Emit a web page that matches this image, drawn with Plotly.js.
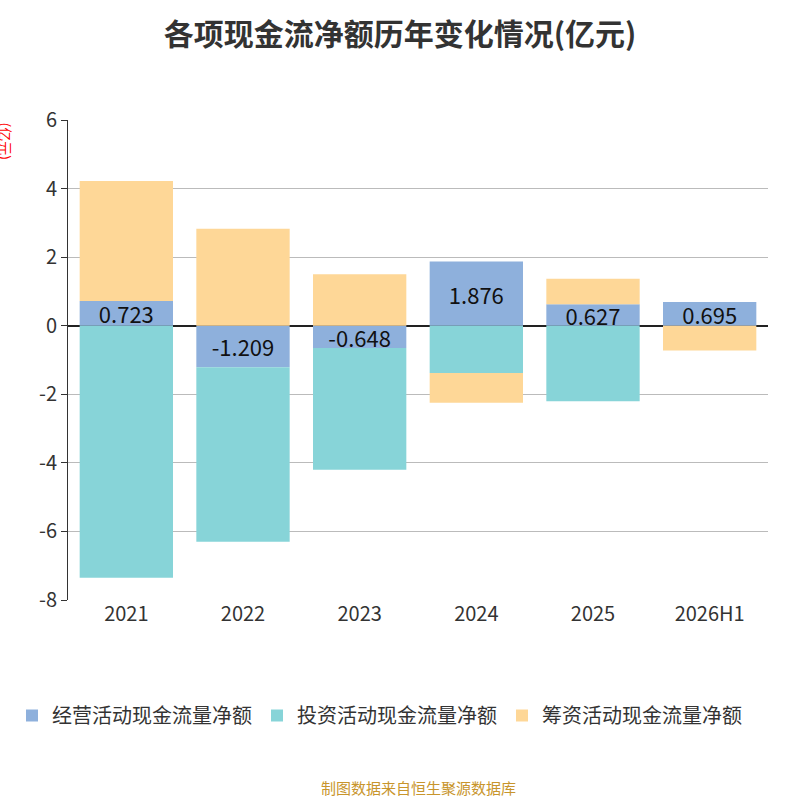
<!DOCTYPE html>
<html>
<head>
<meta charset="utf-8">
<script src="https://cdn.plot.ly/plotly-3.0.1.min.js"></script>
<style>body{margin:0}</style>
</head>
<body>
<div id="chart" style="width:800px;height:800px"></div>
<script>
var years = ['2021', '2022', '2023', '2024', '2025', '2026H1'];
var operating = [0.723, -1.209, -0.648, 1.876, 0.627, 0.695];
var investing = [-7.35, -5.09, -3.55, -1.38, -2.2, 0];
var financing = [3.5, 2.83, 1.5, -0.87, 0.74, -0.72];
var yTicks = [-8, -6, -4, -2, 0, 2, 4, 6];

var font = {family: 'Noto Sans CJK SC, Noto Sans, sans-serif'};

var traces = [
    {
        name: '经营活动现金流量净额', x: years, y: operating, type: 'bar',
        marker: {color: '#8eb0dc'},
        text: operating.map(v => v.toFixed(3)), textposition: 'inside',
        constraintext: 'none', cliponaxis: false,
        insidetextanchor: 'middle', textfont: {size: 22, color: '#111'},
        hoverinfo: 'x+y'
    },
    {
        name: '投资活动现金流量净额', x: years, y: investing, type: 'bar',
        marker: {color: '#87d4d8'}, textposition: 'none'
    },
    {
        name: '筹资活动现金流量净额', x: years, y: financing, type: 'bar',
        marker: {color: '#fed797'}, textposition: 'none'
    }
];

var layout = {
    width: 800, height: 800,
    barmode: 'relative', bargap: 0.2,
    font: font,
    margin: {l: 65, r: 32, t: 120, b: 200},
    title: {text: '<b>各项现金流净额历年变化情况(亿元)</b>', x: 0.5, y: 0.97,
        font: {size: 30, color: '#333'}},
    uniformtext: {minsize: 22, mode: 'show'},
    xaxis: {type: 'category', tickfont: {size: 20, color: '#333'}, showline: false, ticks: ''},
    yaxis: {range: [-8, 6], tickvals: yTicks, ticktext: yTicks.map(String),
        tickfont: {size: 20, color: '#333'},
        gridcolor: '#bbb', showline: true, linecolor: '#333', ticks: 'outside',
        ticklen: 6, tickcolor: '#333', zeroline: true, zerolinecolor: '#222',
        zerolinewidth: 1.5},
    showlegend: true,
    legend: {orientation: 'h', x: -0.08, y: -0.2, font: {size: 20, color: '#333'}},
    annotations: [
        {text: '(亿元)', textangle: 90, x: 0, y: 1, xref: 'paper', yref: 'paper',
            xanchor: 'right', yanchor: 'top', xshift: -50, showarrow: false,
            font: {size: 14, color: 'red'}},
        {text: '制图数据来自恒生聚源数据库', x: 0.5, y: -0.39, xref: 'paper', yref: 'paper',
            yanchor: 'middle', showarrow: false, font: {size: 15, color: '#c8952c'}}
    ]
};

Plotly.newPlot('chart', traces, layout, {displayModeBar: false});
</script>
</body>
</html>
